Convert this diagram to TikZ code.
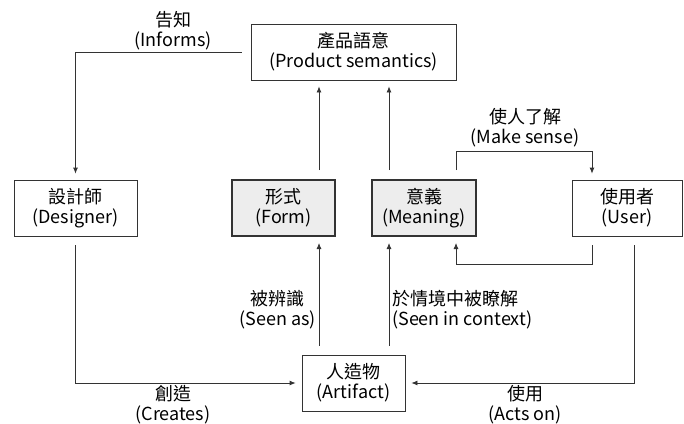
\documentclass[tikz,border=0pt]{standalone}
\usepackage{fontspec}
\setmainfont{Noto Sans CJK TC}
\usetikzlibrary{positioning,
	arrows.meta}
\definecolor{linegray}{HTML}{333333}
\definecolor{boxgray}{HTML}{EDEDED}
\tikzset{
	block/.style={draw=linegray, line width=0.8pt, align=center, minimum height=56pt, inner sep=0pt, font=\fontsize{18}{20}\selectfont},
	keyblock/.style={block, fill=boxgray, line width=2pt},
	flow/.style={draw=linegray, line width=0.8pt, -{Latex[length=6pt,width=5pt]}, shorten <=9pt, shorten >=6pt},
	note/.style={align=center, inner sep=0pt, font=\fontsize{18}{20}\selectfont}
}

\begin{document}
\begin{tikzpicture}[x=1pt, y=-1pt]
                        \useasboundingbox (0,0) rectangle (684,423);
                        \node (semantics) [block, minimum width=205pt] at (353.5,52) {產品語意\\(Product semantics)};
                        \node (designer) [block, minimum width=123pt] at (75.5,208) {設計師\\(Designer)};
                        \node (form) [keyblock, minimum width=103pt] at (283.5,208) {形式\\(Form)};
                        \node (meaning) [keyblock, minimum width=104pt] at (424,208) {意義\\(Meaning)};
                        \node (user) [block, minimum width=110pt] at (627,208) {使用者\\(User)};
                        \node (artifact) [block, minimum width=103pt] at (353.5,383) {人造物\\(Artifact)};

                        \coordinate (formx) at (319,0);
                        \coordinate (meaningx) at (389,0);
                        \coordinate (userx) at (634,0);
                        \coordinate (sense1) at (456,151);
                        \coordinate (sense2) at (592,151);
                        \coordinate (back1) at (592,264);
                        \coordinate (back2) at (456,264);

                        \draw[flow] (semantics.west) -| (designer.north);
                        \draw[flow] (form.north -| formx) -- (semantics.south -| formx);
                        \draw[flow] (meaning.north -| meaningx) -- (semantics.south -| meaningx);
                        \draw[flow] (meaning.north -| sense1) -- (sense1) -- (sense2) -- (user.north -| sense2);
                        \draw[flow] (user.south -| back1) -- (back1) -- (back2) -- (meaning.south -| back2);
                        \draw[flow] (artifact.north -| formx) -- (form.south -| formx);
                        \draw[flow] (artifact.north -| meaningx) -- (meaning.south -| meaningx);
                        \draw[flow] (designer.south) |- (artifact.west);
                        \draw[flow] (user.south -| userx) |- (artifact.east);

                        \node (informs) [note] at (173,31) {告知\\(Informs)};
                        \node (makesense) [note] at (525,128) {使人了解\\(Make sense)};
                        \node (seenas) [note, anchor=east] at (316,310) {被辨識\\(Seen as)};
                        \node (context) [note, align=left, anchor=west] at (392,310) {於情境中被瞭解\\(Seen in context)};
                        \node (creates) [note] at (173,405) {創造\\(Creates)};
                        \node (actson) [note] at (525,405) {使用\\(Acts on)};
                    \end{tikzpicture}
\end{document}
